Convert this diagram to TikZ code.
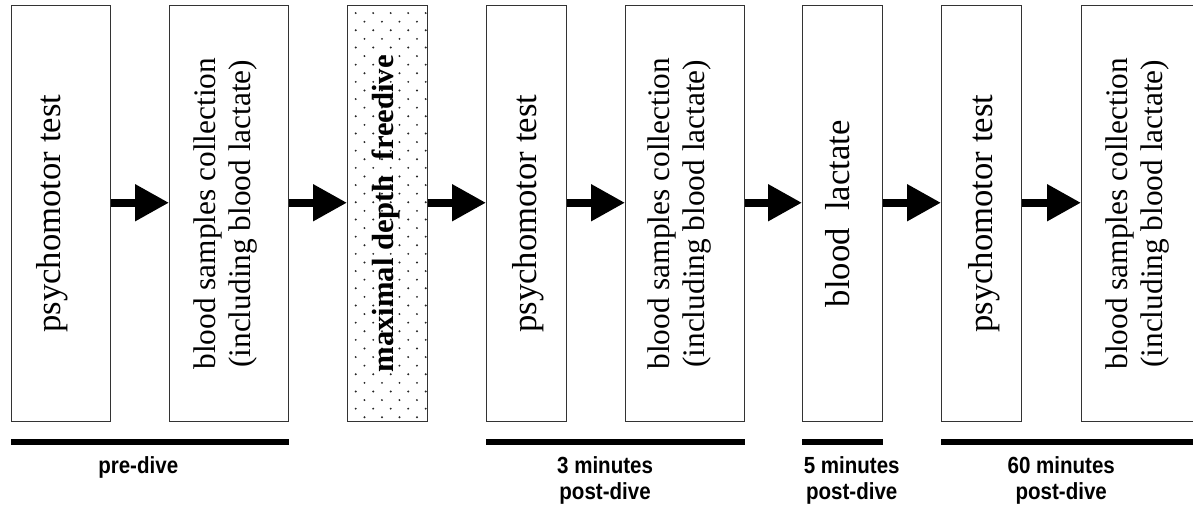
\documentclass[tikz,border=0pt]{standalone}
\usepackage{fontspec}
\newfontfamily\boxfont{Liberation Serif}
\newfontfamily\labelfont[FakeStretch=0.88]{Liberation Sans}
\usepackage{tikz}
\usetikzlibrary{arrows.meta, positioning}
\newcommand{\uptext}[2]{\rotatebox{90}{\raisebox{#1}[0pt][0pt]{#2}}}
\newcommand{\twolines}[2]{\begin{tabular}{@{}c@{}}#1\\#2\end{tabular}}
\tikzstyle{stage} = [rectangle, draw=black!80, line width=1.1pt, minimum
    height=312pt, minimum width=60pt, inner sep=0pt, text centered,
font=\boxfont\fontsize{26}{30}\selectfont]
\tikzstyle{widestage} = [stage, minimum width=89.25pt,
font=\boxfont\fontsize{23.5}{26.25}\selectfont]
\tikzstyle{divestage} = [stage, font=\boxfont\bfseries\fontsize{23}{27}\selectfont,
path picture={\foreach \j [evaluate=\j as \dy using {-5.5-6.45*\j},
    evaluate=\j as \dx using {6+6.5625*mod(\j,2)}] in {0,...,47}
    \foreach \i in {0,...,4}
    \fill[black!85] ([xshift={(\dx+13.125*\i)*1pt}, yshift={\dy*1pt}]path picture bounding box.north west) circle (0.8pt);}]
\tikzstyle{arrow} = [line width=6pt, -{Triangle[length=25.5pt, width=26.25pt]}]
\tikzstyle{period} = [line width=4.5pt]
\tikzstyle{periodlabel} = [inner sep=0pt, align=center,
font=\labelfont\bfseries\fontsize{17.5}{19.5}\selectfont]

\begin{document}
\begin{tikzpicture}[x=0.75pt, y=-0.75pt]
            \useasboundingbox (0,0) rectangle (1193,508);
            % Stages
            \node[stage, minimum width=74.25pt, anchor=north west] (psy1) at (11,5)
            {\uptext{0.4pt}{psychomotor test}};
            \node[widestage, right=43.15pt of psy1] (blood1)
            {\uptext{-3.7pt}{\twolines{blood samples collection}{(including blood lactate)}}};
            \node[divestage, right=43.15pt of blood1] (dive)
            {\uptext{-4.5pt}{maximal depth\ \ freedive}};
            \node[stage, right=43.15pt of dive] (psy3)
            {\uptext{-7.5pt}{psychomotor test}};
            \node[widestage, right=43.15pt of psy3] (blood3)
            {\uptext{-2.2pt}{\twolines{blood samples collection}{(including blood lactate)}}};
            \node[stage, right=42.4pt of blood3] (lact5)
            {\uptext{-5.25pt}{blood\ \ lactate}};
            \node[stage, right=43.15pt of lact5] (psy60)
            {\uptext{-7.9pt}{psychomotor test}};
            \node[widestage, right=43.9pt of psy60] (blood60)
            {\uptext{-3.7pt}{\twolines{blood samples collection}{(including blood lactate)}}};
            % Arrows
            \draw[arrow] ([yshift=8.25pt]psy1.east) -- ([yshift=8.25pt]blood1.west);
            \draw[arrow] ([yshift=8.25pt]blood1.east) -- ([yshift=8.25pt]dive.west);
            \draw[arrow] ([yshift=8.25pt]dive.east) -- ([yshift=8.25pt]psy3.west);
            \draw[arrow] ([yshift=8.25pt]psy3.east) -- ([yshift=8.25pt]blood3.west);
            \draw[arrow] ([yshift=8.25pt]blood3.east) -- ([yshift=8.25pt]lact5.west);
            \draw[arrow] ([yshift=8.25pt]lact5.east) -- ([yshift=8.25pt]psy60.west);
            \draw[arrow] ([yshift=8.25pt]psy60.east) -- ([yshift=8.25pt]blood60.west);
            % Periods
            \draw[period] ([yshift=-15pt]psy1.south west) --
            ([yshift=-15pt]blood1.south east) coordinate[midway] (prebar);
            \draw[period] ([yshift=-15pt]psy3.south west) --
            ([yshift=-15pt]blood3.south east) coordinate[midway] (bar3);
            \draw[period] ([yshift=-15pt]lact5.south west) --
            ([yshift=-15pt]lact5.south east) coordinate[midway] (bar5);
            \draw[period] ([yshift=-15pt]psy60.south west) --
            ([yshift=-15pt]blood60.south east) coordinate[midway] (bar60);
            \node[periodlabel, below=10.5pt of prebar, xshift=-9pt] (pre) {pre-dive};
            \node[periodlabel, below=10.5pt of bar3, xshift=-8pt] (post3)
            {3 minutes\\post-dive};
            \node[periodlabel, below=10.5pt of bar5, xshift=6.75pt] (post5)
            {5 minutes\\post-dive};
            \node[periodlabel, below=10.5pt of bar60, xshift=-7.5pt] (post60)
            {60 minutes\\post-dive};

        \end{tikzpicture}
\end{document}
